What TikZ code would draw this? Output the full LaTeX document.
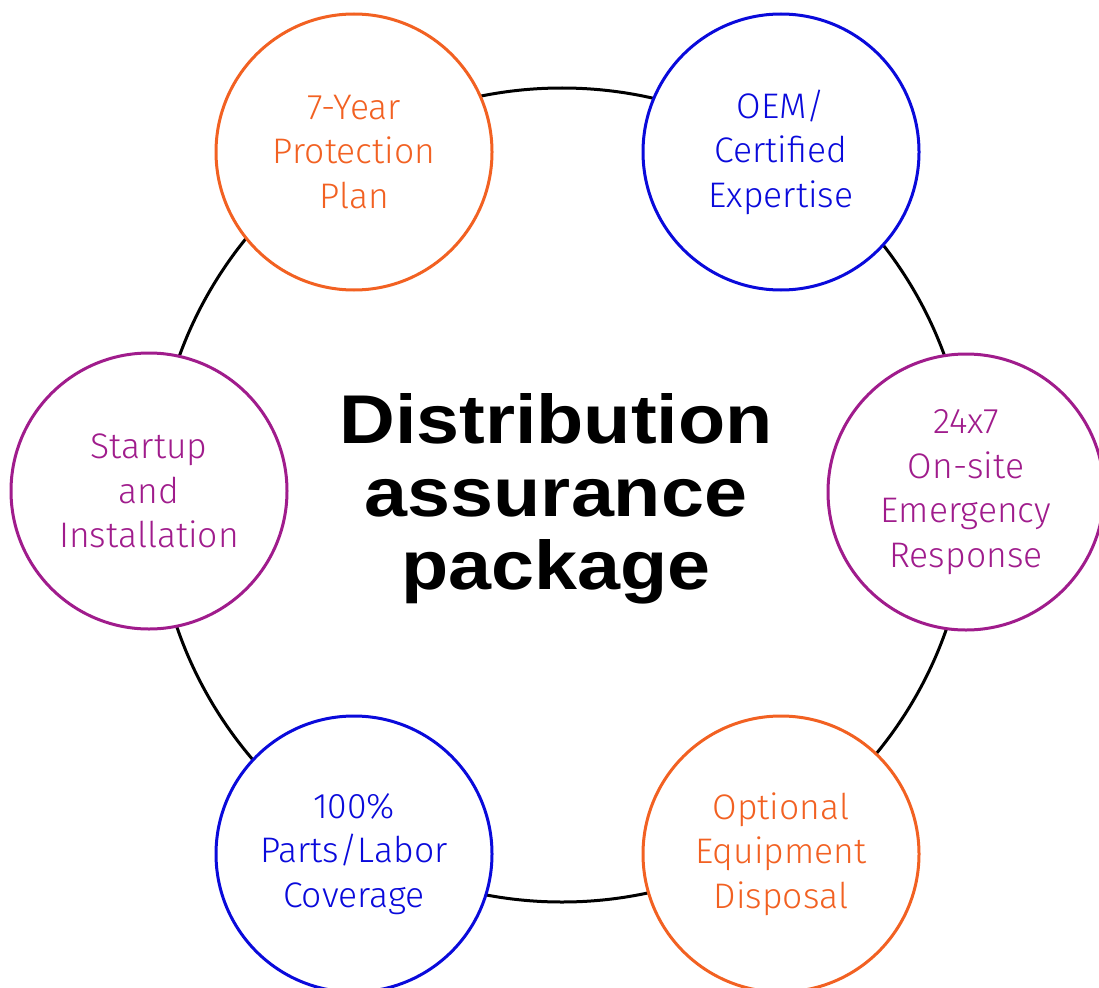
\documentclass[tikz,border=0pt]{standalone}
\usepackage{fontspec}
\IfFontExistsTF{Fira Sans Light}{\newfontfamily\thinfont{Fira Sans Light}}{\newfontfamily\thinfont{Liberation Sans}}
\newfontfamily\titlefont{Liberation Sans}[FakeStretch=1.12]
\definecolor{cOrange}{HTML}{F26122}
\definecolor{cBlue}{HTML}{0A0ADB}
\definecolor{cPurple}{HTML}{A01C8C}
\tikzset{
  ring/.style={circle, draw=black, line width=3pt, minimum size=814pt, inner sep=0pt},
  item/.style={circle, line width=3pt, fill=white, minimum size=276pt, inner sep=0pt, align=center,
    font=\thinfont\fontsize{35.5}{44.6}\selectfont},
  orangeitem/.style={item, draw=cOrange, text=cOrange},
  blueitem/.style={item, draw=cBlue, text=cBlue},
  purpleitem/.style={item, draw=cPurple, text=cPurple},
  titlebox/.style={align=center, font=\titlefont\bfseries\fontsize{69}{73}\selectfont, text=black}
}
\begin{document}
\begin{tikzpicture}[x=1pt,y=-1pt]
\useasboundingbox (0,0) rectangle (1099,987);
\node[ring] (ring) at (562,495) {};
\node[orangeitem] (plan) at (354,152) {7-Year\\Protection\\Plan};
\node[blueitem] (oem) at (781,152) {OEM/\\Certified\\Expertise};
\node[purpleitem] (resp) at (966,492) {24x7\\On-site\\Emergency\\Response};
\node[orangeitem] (disp) at (781,854) {Optional\\Equipment\\Disposal};
\node[blueitem] (parts) at (354,854) {100\%\\Parts/Labor\\Coverage};
\node[purpleitem] (start) at (149,491) {Startup\\and\\Installation};
\node[titlebox] (title) at (556,499) {Distribution\\assurance\\package};
\end{tikzpicture}
\end{document}
